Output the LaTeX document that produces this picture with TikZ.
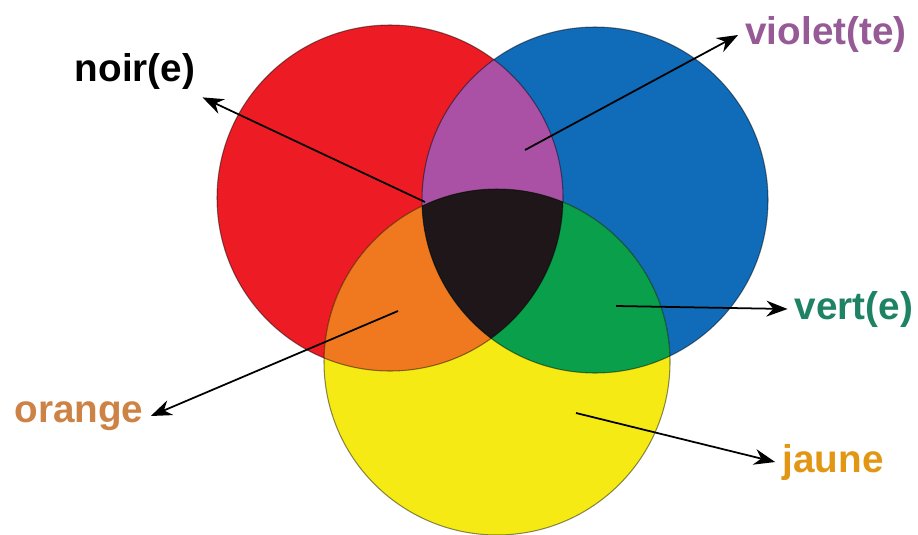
\documentclass[tikz,border=0pt]{standalone}
\usepackage{fontspec}
\setmainfont{Liberation Sans}
\usetikzlibrary{arrows.meta}
\definecolor{rouge}{RGB}{237,28,36}
\definecolor{bleu}{RGB}{16,107,185}
\definecolor{jaunec}{RGB}{245,234,20}
\definecolor{violetc}{RGB}{170,80,165}
\definecolor{vertc}{RGB}{10,160,75}
\definecolor{orangec}{RGB}{240,120,30}
\definecolor{noirc}{RGB}{30,22,25}
\definecolor{txtviolet}{RGB}{150,90,150}
\definecolor{txtvert}{RGB}{30,130,100}
\definecolor{txtjaune}{RGB}{225,150,20}
\definecolor{txtorange}{RGB}{205,130,70}

\begin{document}
\begin{tikzpicture}[x=0.02cm, y=-0.02cm,
  etiquette/.style={font=\fontsize{22}{26}\selectfont\bfseries, inner sep=4pt},
  fleche/.style={line width=1pt, -{Stealth[length=12pt,width=9pt]}},
  bord/.style={draw=black, draw opacity=0.45, line width=0.6pt}]
\useasboundingbox (0,0) rectangle (918,534);
\coordinate (cR) at (390,198);
\coordinate (cB) at (595,200);
\coordinate (cJ) at (497,362);
\fill[rouge] (cR) circle[radius=173];
\fill[bleu] (cB) circle[radius=173];
\fill[jaunec] (cJ) circle[radius=173];
\begin{scope}
\clip (cR) circle[radius=173];
\fill[violetc] (cB) circle[radius=173];
\fill[orangec] (cJ) circle[radius=173];
\clip (cB) circle[radius=173];
\fill[noirc] (cJ) circle[radius=173];
\end{scope}
\begin{scope}
\clip (cB) circle[radius=173];
\clip (cJ) circle[radius=173];
\fill[vertc] (cB) circle[radius=173];
\clip (cR) circle[radius=173];
\fill[noirc] (cJ) circle[radius=173];
\end{scope}
\path[bord] (cR) circle[radius=173];
\path[bord] (cB) circle[radius=173];
\path[bord] (cJ) circle[radius=173];

\node[etiquette] (noir) at (135,72) {noir(e)};
\node[etiquette, text=txtviolet] (violet) at (826,35) {violet(te)};
\node[etiquette, text=txtvert] (vert) at (854,309) {vert(e)};
\node[etiquette, text=txtjaune] (jaune) at (833,462) {jaune};
\node[etiquette, text=txtorange] (orange) at (79,416) {orange};

\coordinate (pN) at (425,202);
\coordinate (pV) at (525,150);
\coordinate (pVe) at (616,306);
\coordinate (pJ) at (576,413);
\coordinate (pO) at (398,311);
\draw[fleche] (pN) -- (noir.south east);
\draw[fleche] (pV) -- (violet.west);
\draw[fleche] (pVe) -- (vert.west);
\draw[fleche] (pJ) -- (jaune.west);
\draw[fleche] (pO) -- (orange.east);
\end{tikzpicture}
\end{document}
